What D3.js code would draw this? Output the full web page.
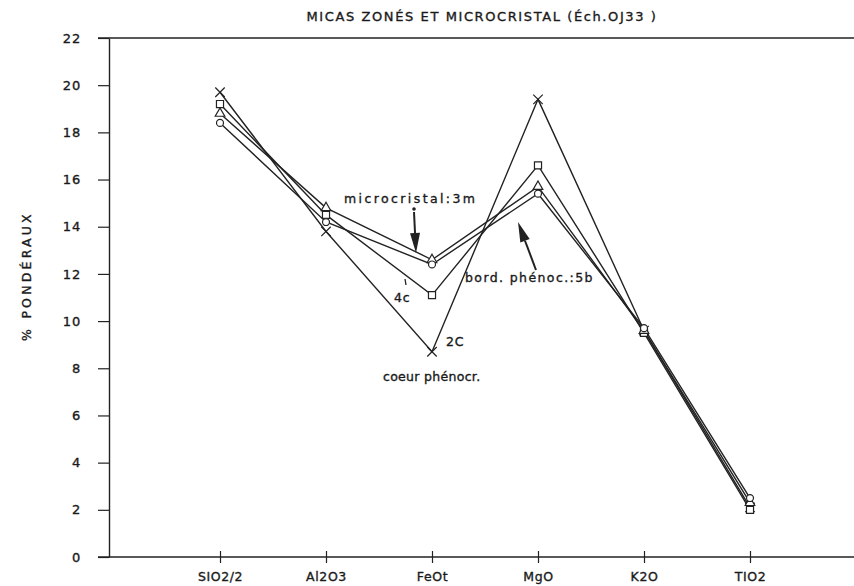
<!DOCTYPE html>
<html>
<head>
<meta charset="utf-8">
<script src="https://cdn.jsdelivr.net/npm/d3@7"></script>
<style>
  body { margin: 0; background: #fff; }
  text { font-family: "DejaVu Sans", sans-serif; fill: #1a1a1a; stroke: #1a1a1a; stroke-width: 0.35; }
</style>
</head>
<body>
<svg id="chart"></svg>
<script>
// oxides on the x axis
const oxides = ["SIO2/2", "Al2O3", "FeOt", "MgO", "K2O", "TIO2"];
const oxideLabels = ["SIO2/2", "Al2O3", "FeOt", "MgO", "K2O", "TIO2"];
const yTicks = [0, 2, 4, 6, 8, 10, 12, 14, 16, 18, 20, 22];

// weight % values
const coeur2C = [19.7, 13.8, 8.7, 19.4, 9.6, 2.1];
const micro4c = [19.2, 14.5, 11.1, 16.6, 9.5, 2.0];
const micro3m = [18.8, 14.8, 12.6, 15.7, 9.6, 2.3];
const bord5b  = [18.4, 14.2, 12.4, 15.4, 9.7, 2.5];

const series = [
  { name: "2C", symbol: "x", values: coeur2C },
  { name: "4c", symbol: "square", values: micro4c },
  { name: "3m", symbol: "triangle", values: micro3m },
  { name: "5b", symbol: "circle", values: bord5b }
];

const width = 854, height = 586;
const svg = d3.select("#chart").attr("width", width).attr("height", height);

const x = d3.scalePoint().domain(oxides).range([220, 750]);
const y = d3.scaleLinear().domain([0, 22]).range([557, 38]);

// title
svg.append("text")
  .attr("x", 482).attr("y", 21)
  .attr("text-anchor", "middle")
  .attr("font-size", 13)
  .attr("letter-spacing", 1.6)
  .text("MICAS ZONÉS ET MICROCRISTAL (Éch.OJ33 )");

// top frame line
svg.append("line")
  .attr("x1", 98).attr("x2", width)
  .attr("y1", y(22)).attr("y2", y(22))
  .attr("stroke", "#222").attr("stroke-width", 1.4);

// y axis
const yAxis = d3.axisLeft(y).tickValues(yTicks).tickSize(11).tickPadding(17).tickSizeOuter(0);
const gy = svg.append("g").attr("transform", "translate(109,0)").call(yAxis);
gy.select(".domain").attr("stroke", "#222").attr("stroke-width", 1.4);
gy.selectAll(".tick line").attr("stroke", "#222").attr("stroke-width", 1.2);
gy.selectAll(".tick text").attr("font-size", 13).attr("fill", "#1a1a1a")
  .attr("font-family", "DejaVu Sans, sans-serif").attr("letter-spacing", 0.8);

// x axis
const xAxis = d3.axisBottom(x).tickSize(6).tickPadding(9).tickSizeOuter(0)
  .tickFormat((d, i) => oxideLabels[i]);
const gx = svg.append("g").attr("transform", "translate(0," + y(0) + ")").call(xAxis);
gx.select(".domain").attr("d", "M98,0H" + width).attr("stroke", "#222").attr("stroke-width", 1.4);
gx.selectAll(".tick line").attr("y1", -6).attr("y2", 6).attr("stroke", "#222").attr("stroke-width", 1.2);
gx.selectAll(".tick text").attr("font-size", 12.5).attr("fill", "#1a1a1a")
  .attr("font-family", "DejaVu Sans, sans-serif").attr("letter-spacing", 0.6);

// y label
svg.append("text")
  .attr("transform", "translate(31,276) rotate(-90)")
  .attr("text-anchor", "middle")
  .attr("font-size", 12.5)
  .attr("letter-spacing", 3.2)
  .text("% PONDÉRAUX");

// lines
const line = d3.line().x((d, i) => x(oxides[i])).y(d => y(d));
svg.selectAll(".serie")
  .data(series)
  .enter()
  .append("path")
  .attr("class", "serie")
  .attr("d", d => line(d.values))
  .attr("fill", "none")
  .attr("stroke", "#222")
  .attr("stroke-width", 1.4);

// markers
const symbols = {
  x: d3.symbolX, square: d3.symbolSquare, triangle: d3.symbolTriangle, circle: d3.symbolCircle
};
const sizes = { x: 60, square: 50, triangle: 40, circle: 38 };
series.forEach(s => {
  svg.selectAll(".m" + s.name)
    .data(s.values)
    .enter()
    .append("path")
    .attr("transform", (d, i) => "translate(" + x(oxides[i]) + "," + y(d) + ")")
    .attr("d", d3.symbol().type(symbols[s.symbol]).size(sizes[s.symbol]))
    .attr("fill", s.symbol === "x" ? "none" : "#fff")
    .attr("stroke", "#222")
    .attr("stroke-width", 1.2);
});

// annotations
const notes = [
  { text: "microcristal:3m", x: 344, y: 203, ls: 2.4 },
  { text: "4c", x: 394, y: 302, ls: 0.8 },
  { text: "2C", x: 446, y: 346, ls: 0.8 },
  { text: "coeur phénocr.", x: 383, y: 381, ls: 0.3 },
  { text: "bord. phénoc.:5b", x: 465, y: 282, ls: 1.4 }
];
svg.selectAll(".note")
  .data(notes)
  .enter()
  .append("text")
  .attr("x", d => d.x).attr("y", d => d.y)
  .attr("font-size", 12.5)
  .attr("letter-spacing", d => d.ls)
  .text(d => d.text);

// arrows: shaft path + filled head
function arrow(x0, y0, x1, y1) {
  const a = Math.atan2(y1 - y0, x1 - x0);
  const L = 20, W = 5;
  const bx = x1 - L * Math.cos(a), by = y1 - L * Math.sin(a);
  svg.append("path")
    .attr("d", "M" + x0 + "," + y0 + "L" + bx + "," + by)
    .attr("stroke", "#222").attr("stroke-width", 2).attr("fill", "none");
  const p = [[x1, y1],
    [bx + W * Math.sin(a), by - W * Math.cos(a)],
    [bx - W * Math.sin(a), by + W * Math.cos(a)]];
  svg.append("path").attr("d", "M" + p.join("L") + "Z").attr("fill", "#222");
}
svg.append("circle").attr("cx", 414).attr("cy", 209).attr("r", 1.8).attr("fill", "#222");
arrow(414, 212, 416, 253);
arrow(536, 270, 518, 222);
// small tick near 4c
svg.append("line").attr("x1", 405).attr("y1", 279).attr("x2", 406).attr("y2", 285)
  .attr("stroke", "#222").attr("stroke-width", 1.3);
</script>
</body>
</html>
